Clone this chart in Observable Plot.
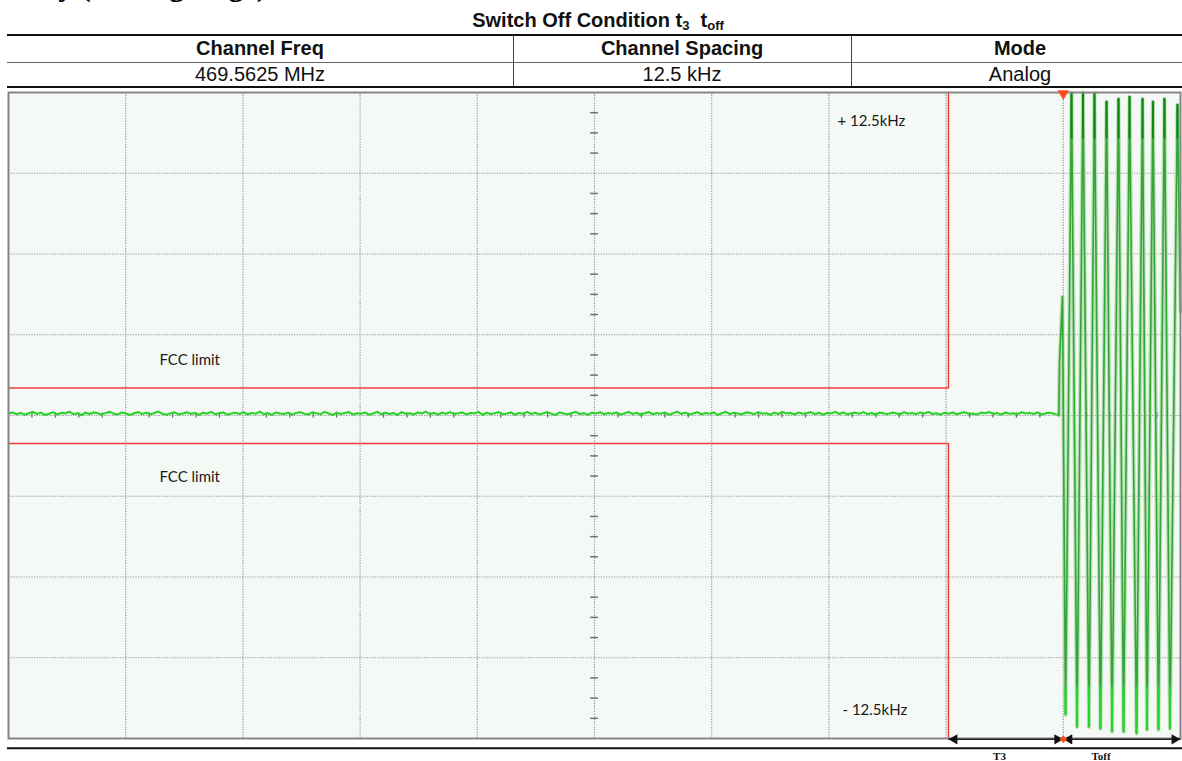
<!DOCTYPE html>
<html>
<head>
<meta charset="utf-8">
<script src="https://cdn.jsdelivr.net/npm/d3@7"></script>
<script src="https://cdn.jsdelivr.net/npm/@observablehq/plot@0.6"></script>
<style>
  html, body { margin: 0; padding: 0; background: #fff; width: 1182px; height: 761px; overflow: hidden; }
  #page { position: relative; width: 1182px; height: 761px; }
  .abs { position: absolute; white-space: nowrap; }
  .cell { position: absolute; font-family: "Liberation Sans", Arial, sans-serif; font-size: 20px; color: #111; text-align: center; line-height: 26px; }
  .hd { font-weight: bold; }
  .hline { position: absolute; left: 7px; width: 1182px; }
  .vline { position: absolute; width: 1.5px; background: #444; }
  #chart { position: absolute; left: 0; top: 88px; }
</style>
</head>
<body>
<div id="page">
  <div class="abs" style="left:0;top:-29px;font:bold 30px 'Liberation Serif',serif;line-height:30px;color:#000;">Delay (Ending Edge)</div>
  <div class="abs" id="title" style="left:0;width:1196px;text-align:center;top:8px;font:bold 20px 'Liberation Sans',Arial,sans-serif;line-height:24px;color:#111;">Switch Off Condition t<sub style="font-size:13px;vertical-align:-3px">3</sub>&nbsp;&nbsp;t<sub style="font-size:13px;vertical-align:-3px">off</sub></div>
  <div class="hline" style="top:33.5px;height:2.5px;background:#111;"></div>
  <div class="hline" style="top:61.5px;height:1px;background:#666;"></div>
  <div class="hline" style="top:86px;height:2px;background:#111;"></div>
  <div class="vline" style="left:512.5px;top:36px;height:50px;"></div>
  <div class="vline" style="left:850.5px;top:36px;height:50px;"></div>
  <div id="table"></div>
  <div id="chart"></div>
</div>
<script>
// ---------- table data ----------
const tableHeaders = ["Channel Freq", "Channel Spacing", "Mode"];
const tableValues = ["469.5625 MHz", "12.5 kHz", "Analog"];

// ---------- chart data (x in divisions 0..10, y in kHz) ----------
const gridX = [1, 2, 3, 4, 5, 6, 7, 8, 9];
const gridY = [-9.375, -6.25, -3.125, 0, 3.125, 6.25, 9.375];
const fccLimitUpper = 1.06;     // kHz
const fccLimitLower = -1.08;    // kHz
const t3Start = 8.02;           // division where T3 starts
const triggerX = 9.0;           // division of trigger marker / end of T3
const yTopKHz = 12.5;
const yBottomKHz = -12.5;

// noisy carrier before switch-off (kHz), evenly sampled from 0 to noiseEnd
const noiseEnd = 8.955;
const noise = [
0.08,0.12,0.05,0.10,0.03,0.09,0.14,0.06,0.11,0.02,
0.07,0.13,0.04,0.10,0.08,0.15,0.05,0.09,0.01,0.11,
0.06,0.12,0.09,0.03,0.10,0.14,0.07,0.04,0.12,0.08,
0.02,0.09,0.13,0.06,0.11,0.05,0.10,0.15,0.07,0.03,
0.09,0.12,0.04,0.08,0.13,0.06,0.10,0.02,0.11,0.07,
0.14,0.05,0.09,0.12,0.03,0.08,0.11,0.06,0.13,0.04,
0.10,0.07,0.15,0.05,0.09,0.02,0.12,0.08,0.06,0.11,
0.03,0.10,0.13,0.07,0.04,0.12,0.09,0.05,0.14,0.08,
0.02,0.11,0.06,0.10,0.13,0.04,0.09,0.07,0.12,0.03,
0.08,0.14,0.05,0.11,0.06,0.10,0.02,0.13,0.07,0.09,
0.04,0.12,0.08,0.15,0.05,0.10,0.03,0.11,0.07,0.13,
0.06,0.09,0.12,0.04,0.10,0.08,0.14,0.02,0.11,0.06,
0.09,0.13,0.05,0.08,0.12,0.03,0.10,0.07,0.14,0.06,
0.11,0.04,0.09,0.13,0.07,0.02,0.12,0.08,0.05,0.10,
0.14,0.06,0.09,0.03,0.11,0.08,0.13,0.05,0.10,0.07,
0.12,0.04,0.08,0.14,0.06,0.11,0.02,0.09,0.13,0.05,
0.10,0.07,0.12,0.03,0.09,0.15,0.06,0.11,0.04,0.08,
0.13,0.05,0.10,0.07,0.12,0.02,0.09,0.14,0.06,0.11,
0.08,0.04,0.12,0.10,0.05,0.13,0.07,0.09,0.03,0.11,
0.06,0.14,0.08,0.10,0.04,0.12,0.07,0.09,0.13,0.05,
0.11,0.03,0.10,0.08,0.14,0.06,0.12,0.04,0.09,0.11,
0.07,0.13,0.05,0.10,0.02,0.12,0.08,0.06,0.11,0.09,
0.04,0.13,0.07,0.10,0.05,0.12,0.08,0.14,0.06,0.09,
0.03,0.11,0.07,0.12,0.05,0.10,0.13,0.06,0.08,0.04,
0.11,0.09,0.14,0.06,0.10,0.03,0.12,0.07,0.09,0.05,
0.13,0.08,0.10,0.06,0.12,0.04,0.09,0.11,0.07,0.02
];

// switch-off transient: vertices of the sweep (x in divisions, y in kHz)
const waveT = [8.955, 8.962, 8.968, 8.993, 9.019, 9.070, 9.117, 9.168, 9.219, 9.266, 9.317, 9.369, 9.416, 9.471, 9.514, 9.565, 9.625, 9.676, 9.714, 9.765, 9.812, 9.863, 9.910, 9.974, 10.0];
const waveV = [0.05, 0.0, 2.1, 4.6, -11.58, 12.5, -12.05, 12.5, -12.05, 12.46, -12.12, 12.15, -12.24, 12.26, -12.24, 12.34, -12.31, 12.26, -12.16, 12.15, -12.16, 12.26, -12.12, 12.03, 4.0];
const peakDarkEnd = 10.7;
const troughBrightStart = -10.5;

// text labels
const fccLabels = [{x: 1.288, y: 2.15, text: "FCC limit"}, {x: 1.288, y: -2.37, text: "FCC limit"}];
const rangeLabels = [{x: 7.073, y: 11.38, text: "+ 12.5kHz"}, {x: 7.116, y: -11.42, text: "- 12.5kHz"}];
const spanLabels = [{x: 8.456, text: "T3"}, {x: 9.322, text: "Toff"}];
const arrowY = -12.53;
const labelY = -13.19;
const baseLineY = -12.88;

// ---------- table ----------
const colEdges = [7, 513, 851, 1189];
const tableDiv = document.getElementById("table");
tableHeaders.forEach((h, i) => {
  const d = document.createElement("div");
  d.className = "cell hd";
  d.style.left = colEdges[i] + "px";
  d.style.width = (colEdges[i + 1] - colEdges[i]) + "px";
  d.style.top = "35px";
  d.textContent = h;
  tableDiv.appendChild(d);
});
tableValues.forEach((v, i) => {
  const d = document.createElement("div");
  d.className = "cell";
  d.style.left = colEdges[i] + "px";
  d.style.width = (colEdges[i + 1] - colEdges[i]) + "px";
  d.style.top = "61px";
  d.textContent = v;
  tableDiv.appendChild(d);
});

// ---------- chart ----------
const noiseData = noise.map((v, i) => ({t: i * noiseEnd / (noise.length - 1), v}));
const wave = waveT.map((t, i) => ({t, v: waveV[i]}));
const peaks = wave.filter(d => d.v > 11);
const troughs = wave.filter(d => d.v < -11);
const minorY = d3.range(-12.5, 12.5001, 3.125 / 4).filter(v => Math.abs(v % 3.125) > 1e-6 && Math.abs(Math.abs(v % 3.125) - 3.125) > 1e-6);
const minorX = d3.range(0, 10.0001, 0.2).filter(v => Math.abs(v - Math.round(v)) > 1e-6);

const upperLimit = [{x: 0, y: fccLimitUpper}, {x: t3Start, y: fccLimitUpper}, {x: t3Start, y: yTopKHz}];
const lowerLimit = [{x: 0, y: fccLimitLower}, {x: t3Start, y: fccLimitLower}, {x: t3Start, y: yBottomKHz}];

const chart = Plot.plot({
  width: 1182,
  height: 673,
  marginLeft: 8,
  marginRight: 2,
  marginTop: 4,
  marginBottom: 23,
  x: {domain: [0, 10], axis: null},
  y: {domain: [yBottomKHz, yTopKHz], axis: null},
  style: {background: "transparent", overflow: "visible"},
  marks: [
    Plot.frame({fill: "#f5f9f6", stroke: "none"}),
    Plot.ruleX(gridX, {stroke: "#9a9a9a", strokeWidth: 1.2, strokeDasharray: "1.3,1.3"}),
    Plot.ruleY(gridY, {stroke: "#9a9a9a", strokeWidth: 1.2, strokeDasharray: "1.3,1.3"}),
    Plot.ruleY(minorY, {x1: 4.967, x2: 5.033, stroke: "#6e6e6e", strokeWidth: 1.5}),
    Plot.ruleX(minorX, {y1: -0.1, y2: 0.1, stroke: "#6e6e6e", strokeWidth: 1.3}),
    Plot.line(upperLimit, {x: "x", y: "y", stroke: "#f23c3c", strokeWidth: 1.5}),
    Plot.line(lowerLimit, {x: "x", y: "y", stroke: "#f23c3c", strokeWidth: 1.5}),
    Plot.line(noiseData, {x: "t", y: "v", stroke: "#27d427", strokeWidth: 2.1}),
    Plot.line(wave, {x: "t", y: "v", stroke: "#9fd89f", strokeWidth: 4, strokeOpacity: 0.7}),
    Plot.line(wave, {x: "t", y: "v", stroke: "#35a535", strokeWidth: 1.6}),
    Plot.ruleX(peaks, {x: "t", y1: "v", y2: peakDarkEnd, stroke: "#108810", strokeWidth: 2.2}),
    Plot.ruleX(troughs, {x: "t", y1: "v", y2: troughBrightStart, stroke: "#2bd42b", strokeWidth: 2.2}),
    Plot.frame({stroke: "#858585", strokeWidth: 2}),
    Plot.text(fccLabels, {x: "x", y: "y", text: "text", textAnchor: "start", fontFamily: "Lato, 'Open Sans', sans-serif", fontSize: 15, fill: "#1a1a1a"}),
    Plot.text(rangeLabels, {x: "x", y: "y", text: "text", textAnchor: "start", fontFamily: "Lato, 'Open Sans', sans-serif", fontSize: 15, fill: "#1a1a1a"}),
    Plot.link([{a: t3Start, b: triggerX}, {a: triggerX, b: 10}], {x1: "a", x2: "b", y1: arrowY, y2: arrowY, stroke: "#222", strokeWidth: 1.6}),
    Plot.dot([t3Start, triggerX], {x: d => d, y: arrowY, symbol: "triangle", rotate: -90, r: 3.8, fill: "#111", stroke: "none", dx: 6}),
    Plot.dot([triggerX, 10], {x: d => d, y: arrowY, symbol: "triangle", rotate: 90, r: 3.8, fill: "#111", stroke: "none", dx: -6}),
    Plot.dot([triggerX], {x: d => d, y: arrowY, symbol: "diamond2", r: 3.4, fill: "#ff4a1c", stroke: "none"}),
    Plot.dot([triggerX], {x: d => d, y: yTopKHz, symbol: "triangle", rotate: 180, r: 4.2, fill: "#ff4a1c", stroke: "none", dy: 1}),
    Plot.ruleY([baseLineY], {x1: -0.009, x2: 10.02, stroke: "#111", strokeWidth: 2}),
    Plot.text(spanLabels, {x: "x", y: labelY, text: "text", fontFamily: "'Liberation Serif', serif", fontWeight: "bold", fontSize: 11, fill: "#111"})
  ]
});
document.getElementById("chart").appendChild(chart);
</script>
</body>
</html>
